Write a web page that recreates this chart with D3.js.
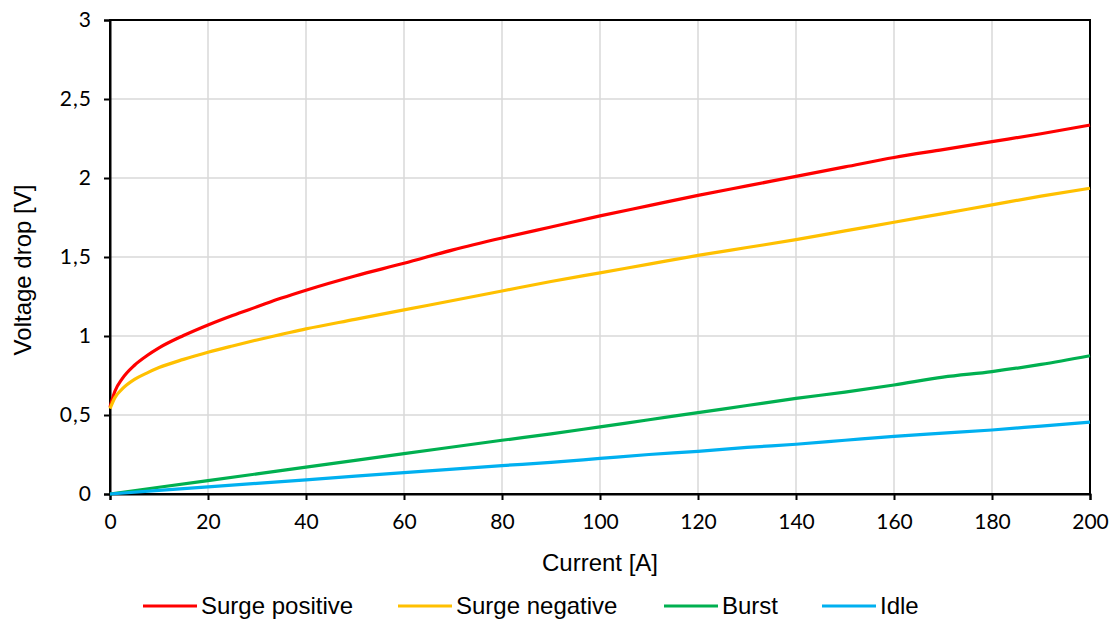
<!DOCTYPE html>
<html>
<head>
<meta charset="utf-8">
<script src="https://cdn.jsdelivr.net/npm/d3@7"></script>
<style>
  html, body { margin: 0; padding: 0; background: #fff; }
  svg { display: block; }
</style>
</head>
<body>
<div id="chart"></div>
<script>
// currents for the surge curves (dense near zero, they bend there)
const surgeCurrent = [0, 1, 2.5, 5, 7.5, 10, 15, 20, 25, 30, 35, 40, 50, 60, 70, 80, 90, 100, 110, 120, 130, 140, 150, 160, 170, 180, 190, 200];
const surgePositive = [0.55, 0.65, 0.73, 0.815, 0.875, 0.925, 1.003, 1.07, 1.13, 1.185, 1.24, 1.29, 1.38, 1.46, 1.545, 1.62, 1.69, 1.76, 1.825, 1.89, 1.95, 2.01, 2.07, 2.13, 2.18, 2.23, 2.28, 2.335];
const surgeNegative = [0.54, 0.61, 0.665, 0.725, 0.765, 0.8, 0.852, 0.897, 0.937, 0.975, 1.01, 1.045, 1.105, 1.165, 1.225, 1.285, 1.345, 1.40, 1.455, 1.51, 1.56, 1.61, 1.665, 1.72, 1.775, 1.83, 1.885, 1.935];

const lowCurrent = [0, 20, 40, 60, 80, 90, 100, 110, 120, 130, 140, 150, 160, 170, 180, 190, 200];
const burst = [0, 0.085, 0.17, 0.255, 0.34, 0.38, 0.425, 0.47, 0.515, 0.56, 0.605, 0.645, 0.69, 0.74, 0.775, 0.82, 0.875];
const idle = [0, 0.045, 0.09, 0.135, 0.18, 0.2, 0.225, 0.25, 0.27, 0.295, 0.315, 0.34, 0.365, 0.385, 0.405, 0.43, 0.455];

const xTicks = [0, 20, 40, 60, 80, 100, 120, 140, 160, 180, 200];
const yTicks = [0, 0.5, 1, 1.5, 2, 2.5, 3];

const series = [
  { name: "Surge positive", color: "#ff0000", xs: surgeCurrent, ys: surgePositive },
  { name: "Surge negative", color: "#ffc000", xs: surgeCurrent, ys: surgeNegative },
  { name: "Burst", color: "#00b050", xs: lowCurrent, ys: burst },
  { name: "Idle", color: "#00b0f0", xs: lowCurrent, ys: idle }
];

const W = 1111, H = 619;
const margin = { top: 20, right: 21, bottom: 125, left: 110 };
const width = W - margin.left - margin.right;
const height = H - margin.top - margin.bottom;

const x = d3.scaleLinear().domain([0, 200]).range([0, width]);
const y = d3.scaleLinear().domain([0, 3]).range([height, 0]);

const svg = d3.select("#chart").append("svg")
  .attr("width", W)
  .attr("height", H);

const g = svg.append("g")
  .attr("transform", `translate(${margin.left}, ${margin.top})`);

// grid
g.append("g").selectAll("line")
  .data(xTicks.slice(1, -1))
  .enter().append("line")
  .attr("x1", d => x(d)).attr("x2", d => x(d))
  .attr("y1", 0).attr("y2", height)
  .attr("stroke", "#d9d9d9").attr("stroke-width", 1.5);

g.append("g").selectAll("line")
  .data(yTicks.slice(1, -1))
  .enter().append("line")
  .attr("x1", 0).attr("x2", width)
  .attr("y1", d => y(d)).attr("y2", d => y(d))
  .attr("stroke", "#d9d9d9").attr("stroke-width", 1.5);

// frame
g.append("rect")
  .attr("x", 0).attr("y", 0)
  .attr("width", width).attr("height", height)
  .attr("fill", "none")
  .attr("stroke", "#000").attr("stroke-width", 2);

const fmt = d => String(d).replace(".", ",");

const xAxis = d3.axisBottom(x).tickValues(xTicks).tickSize(6).tickPadding(14).tickFormat(d3.format("d"));
const yAxis = d3.axisLeft(y).tickValues(yTicks).tickSize(6).tickPadding(12).tickFormat(fmt);

const gx = g.append("g")
  .attr("transform", `translate(0, ${height})`)
  .call(xAxis);
const gy = g.append("g").call(yAxis);

[gx, gy].forEach(a => {
  a.select(".domain").attr("stroke", "#000").attr("stroke-width", 2);
  a.selectAll(".tick line").attr("stroke", "#000").attr("stroke-width", 2);
  a.selectAll(".tick text")
    .attr("fill", "#000")
    .attr("font-family", "Lato, 'Open Sans', sans-serif")
    .attr("font-size", "21px");
});
gy.selectAll(".tick text").attr("letter-spacing", "1px");

// lines
const line = d3.line()
  .x(d => x(d[0]))
  .y(d => y(d[1]))
  .curve(d3.curveMonotoneX);

series.forEach(s => {
  g.append("path")
    .datum(s.xs.map((v, i) => [v, s.ys[i]]))
    .attr("fill", "none")
    .attr("stroke", s.color)
    .attr("stroke-width", 3.2)
    .attr("stroke-linejoin", "round")
    .attr("d", line);
});

// axis titles
svg.append("text")
  .attr("x", margin.left + width / 2)
  .attr("y", 571)
  .attr("text-anchor", "middle")
  .attr("font-family", "'Liberation Sans', Arial, sans-serif")
  .attr("font-size", "24px")
  .text("Current [A]");

svg.append("text")
  .attr("transform", `translate(31, 270) rotate(-90)`)
  .attr("text-anchor", "middle")
  .attr("font-family", "'Liberation Sans', Arial, sans-serif")
  .attr("font-size", "24px")
  .text("Voltage drop [V]");

// legend
const legendX = [143, 398, 664, 822];
const legend = svg.append("g");
series.forEach((s, i) => {
  const lg = legend.append("g").attr("transform", `translate(${legendX[i]}, 606)`);
  lg.append("line")
    .attr("x1", 0).attr("x2", 54)
    .attr("stroke", s.color).attr("stroke-width", 3.2);
  lg.append("text")
    .attr("x", 58)
    .attr("dy", "0.35em")
    .attr("font-family", "'Liberation Sans', Arial, sans-serif")
    .attr("font-size", "24px")
    .text(s.name);
});
</script>
</body>
</html>
